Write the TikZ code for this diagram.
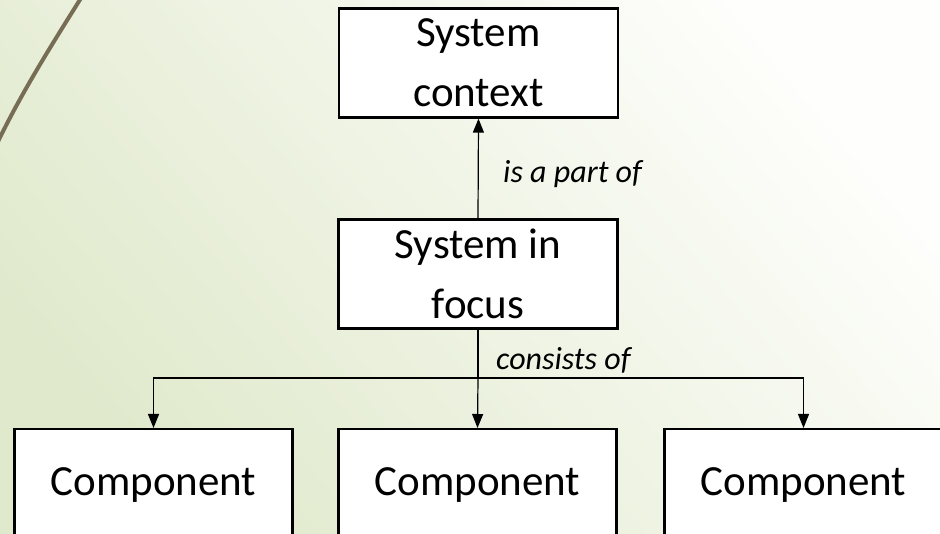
\documentclass[tikz,border=0pt]{standalone}
\usepackage{fontspec}
\setmainfont{Carlito}
\usetikzlibrary{arrows.meta}

\definecolor{bggreen}{RGB}{224,233,204}
\definecolor{bgwhite}{RGB}{254,254,252}
\definecolor{swoosh}{RGB}{118,109,84}

\tikzset{
  box/.style={draw=black, line width=2.2pt, fill=white, inner sep=0pt,
    align=center, font=\fontsize{43}{60}\selectfont},
  topbox/.style={box, minimum width=279pt, minimum height=109pt},
  compbox/.style={box, minimum width=278pt, minimum height=112pt, anchor=north},
  link/.style={line width=1.2pt, draw=black},
  tip/.style={-{Triangle[length=14pt,width=11pt]}},
  rel/.style={font=\fontsize{32}{38}\selectfont\itshape, inner sep=0pt, anchor=base west}
}

\begin{document}
\begin{tikzpicture}[x=1pt, y=-1pt]
  \useasboundingbox (0,0) rectangle (940,534);
  \clip (0,0) rectangle (940,534);

  % soft green backdrop, fading to white towards the upper right
  \shade[shading=axis, bottom color=bggreen, top color=bgwhite, shading angle=-50]
    (0,0) rectangle (940,534);

  % decorative arc on the left edge
  \draw[swoosh, line width=4pt] (86,-10) .. controls (60,32) and (22,90) .. (-6,150);

  % boxes
  \node[topbox] (ctx) at (478.5,63) {System\\context};
  \node[topbox] (focus) at (478,274) {System in\\focus};

  \node[compbox] (c1) at (153.5,428) {Component};
  \node[compbox] (c2) at (477.5,428) {Component};
  \node[compbox] (c3) at (803.5,428) {Component};

  % is-a-part-of relation
  \draw[link, tip] (focus.north) -- (ctx.south);
  \node[rel] (partof) at (503,183) {is a part of};

  % consists-of relation
  \coordinate (split) at (focus.south |- 0,378);
  \draw[link] (focus.south) -- (split);
  \draw[link, tip] (split) -- (c2.north);
  \draw[link, tip] (split) -| (c1.north);
  \draw[link, tip] (split) -| (c3.north);
  \node[rel] (consists) at (496,370) {consists of};
\end{tikzpicture}
\end{document}
